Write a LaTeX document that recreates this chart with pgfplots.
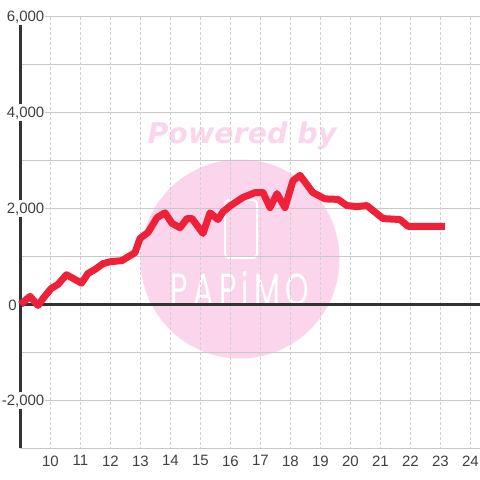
\documentclass[border=0pt]{standalone}
\usepackage{pgfplots}
\pgfplotsset{compat=1.18}
\usepackage{fontspec}
\setmainfont{Liberation Sans}
\newfontfamily\powfont{DejaVu Sans}
\newfontfamily\logofont[LetterSpace=18]{Poppins}
\definecolor{wm}{HTML}{FBD5EC}
\definecolor{axc}{HTML}{333333}
\definecolor{gridc}{HTML}{C8C8C8}
\definecolor{redl}{HTML}{EF2139}
\definecolor{txt}{HTML}{404040}
\pgfplotstableread{
x y
9.000 0
9.317 170
9.583 -20
9.783 150
10.017 330
10.250 420
10.533 620
11.033 445
11.250 645
11.483 730
11.750 850
11.983 890
12.383 915
12.817 1080
12.983 1375
13.250 1500
13.550 1810
13.817 1910
14.050 1690
14.317 1600
14.550 1790
14.717 1790
15.083 1480
15.317 1910
15.583 1770
15.750 1930
16.000 2060
16.417 2230
16.817 2330
17.083 2330
17.317 2020
17.550 2310
17.817 2020
18.083 2580
18.317 2690
18.750 2330
19.150 2200
19.583 2190
19.883 2060
20.217 2040
20.550 2060
21.083 1790
21.650 1770
21.917 1630
23.150 1625
}\mydata
\begin{document}
\begin{tikzpicture}
\useasboundingbox (0pt,0pt) rectangle (480pt,480pt);
\fill[white] (0pt,0pt) rectangle (480pt,480pt);
\fill[wm] (240pt,221pt) circle (99.5pt);
\node[text=wm,font=\powfont\fontsize{28.5}{28.5}\selectfont\bfseries\itshape] at (242pt,344pt) {Powered by};
\draw[white,line width=2pt,rounded corners=4pt] (225pt,280pt) rectangle (257pt,222pt);
\node[text=white,font=\logofont\fontsize{30}{30}\selectfont,yscale=1.5,transform shape] at (240pt,191pt) {PAPiMO};
\begin{axis}[
  at={(20.5pt,31.5pt)},anchor=south west,scale only axis,
  width=459.5pt,height=432pt,
  xmin=9,xmax=24.317,ymin=-3000,ymax=6000,
  axis line style={draw=none},
  tick style={draw=none},
  xtick={10,...,24},
  ytick={-2000,0,2000,4000,6000},
  yticklabels={{-2,000},{0\rule{27.5pt}{0pt}},{2,000},{4,000},{6,000}},
  minor ytick={-3000,-1000,1000,3000,5000},
  ymajorgrids,yminorgrids,
  major grid style={gridc,line width=1pt},
  minor grid style={gridc,line width=1pt},
  clip=false,
  unbounded coords=jump,
  /pgf/number format/assume math mode=true,
  ticklabel style={text=txt,font=\fontsize{15}{15}\selectfont},
  xticklabel style={yshift=-3.5pt},
  yticklabel style={anchor=east,inner xsep=1pt,inner ysep=1pt,xshift=25pt,yshift=-0.8pt,fill=white},
]
\pgfplotsinvokeforeach{10,...,24}{
  \addplot[gridc!85,line width=1pt,dash pattern=on 3pt off 2pt] coordinates {(#1,6000) (#1,-3000)};
}
\addplot[axc,line width=3pt] coordinates {(9,-3000) (9,-2167) (9,nan) (9,-1833) (9,1833) (9,nan) (9,2167) (9,3833) (9,nan) (9,4167) (9,5833)};
\addplot[axc,line width=3pt] coordinates {(9,0) (24.317,0)};
\addplot[redl,line width=7pt,line join=round] table[x=x,y=y] {\mydata};
\end{axis}
\end{tikzpicture}
\end{document}
